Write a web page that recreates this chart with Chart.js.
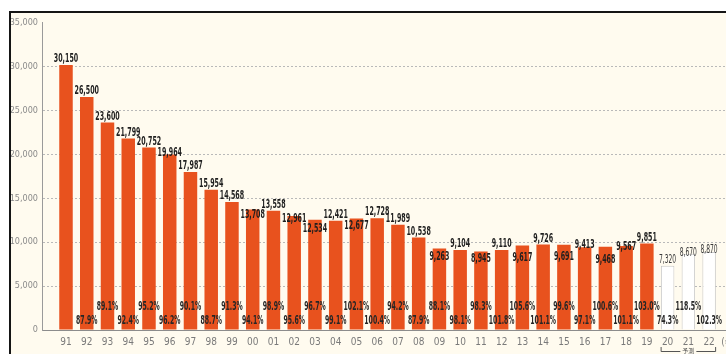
<!DOCTYPE html>
<html>
<head>
<meta charset="utf-8">
<script src="https://cdn.jsdelivr.net/npm/chart.js@4"></script>
<style>
  html, body { margin: 0; padding: 0; background: #fff; overflow: hidden; }
  body { width: 726px; height: 354px; position: relative; }
  #frame { position: absolute; left: 9px; top: 11px; width: 760px; height: 360px;
           border-left: 2px solid #151515; border-top: 2px solid #151515; background: #fffbef; }
  #wrap { position: absolute; left: 0; top: 0; width: 734px; height: 341px; }
</style>
</head>
<body>
<div id="frame"><div id="wrap"><canvas id="chart"></canvas></div></div>
<script>
const years = ['91','92','93','94','95','96','97','98','99','00','01','02','03','04','05','06',
               '07','08','09','10','11','12','13','14','15','16','17','18','19','20','21','22'];
const units = [30150, 26500, 23600, 21799, 20752, 19964, 17987, 15954, 14568, 13708, 13558,
               12961, 12534, 12421, 12677, 12728, 11989, 10538, 9263, 9104, 8945, 9110, 9617,
               9726, 9691, 9413, 9468, 9567, 9851, 7320, 8670, 8870];
const ratios = [null, 87.9, 89.1, 92.4, 95.2, 96.2, 90.1, 88.7, 91.3, 94.1, 98.9, 95.6, 96.7,
                99.1, 102.1, 100.4, 94.2, 87.9, 88.1, 98.1, 98.3, 101.8, 105.6, 101.1, 99.6,
                97.1, 100.6, 101.1, 103.0, 74.3, 118.5, 102.3];
const forecastYears = ['20', '21', '22'];
const yearUnit = '(年)';
const forecastNote = '予測';

const ORANGE = '#e8521e';
const NARROW = '"Liberation Sans Narrow", "DejaVu Sans Condensed", sans-serif';

const isForecast = i => forecastYears.includes(years[i]);

// labels that sit on top of the bar edge instead of above it (px pushed down)
const labelDrop = { '96': 4, '00': 11, '02': 9, '03': 15, '05': 13, '09': 14, '11': 13,
                    '13': 18, '15': 18, '16': 4, '17': 19, '18': 7, '21': 5, '22': 4 };

function squeeze(ctx, text, x, y, font, digitW, color) {
  ctx.save();
  ctx.font = font;
  const sx = Math.min(1, digitW / ctx.measureText('0').width);
  ctx.fillStyle = color;
  ctx.textAlign = 'center';
  ctx.textBaseline = 'middle';
  ctx.translate(x, y);
  ctx.scale(sx, 1);
  ctx.fillText(text, 0, 0);
  ctx.restore();
}

const barLabels = {
  id: 'barLabels',
  afterDatasetsDraw(chart) {
    const ctx = chart.ctx;
    const meta = chart.getDatasetMeta(0);
    const yBase = chart.scales.y.getPixelForValue(0);
    meta.data.forEach((bar, i) => {
      const fc = isForecast(i);
      const drop = labelDrop[years[i]] || 0;
      squeeze(ctx, units[i].toLocaleString('en-US'), bar.x, bar.y - 6 + drop,
              (fc ? '' : 'bold ') + '12px ' + NARROW, fc ? 3.8 : 4.4, fc ? '#3a3a3a' : '#1e1e1e');
      if (ratios[i] != null) {
        const upper = i % 2 === 0;
        squeeze(ctx, ratios[i].toFixed(1) + '%', bar.x, yBase - (upper ? 23 : 9),
                'bold 12px ' + NARROW, 4.3, '#262626');
      }
    });
  },
  afterDraw(chart) {
    // bracket under the forecast years
    const ctx = chart.ctx;
    const x = chart.scales.x;
    const first = years.indexOf(forecastYears[0]);
    const last = years.indexOf(forecastYears[forecastYears.length - 1]);
    const x0 = x.getPixelForValue(first) - 7;
    const x1 = x.getPixelForValue(last) + 7;
    const y = 338;
    const mid = (x0 + x1) / 2;
    ctx.save();
    ctx.strokeStyle = '#555';
    ctx.lineWidth = 1;
    ctx.beginPath();
    ctx.moveTo(x0 + 0.5, y - 4); ctx.lineTo(x0 + 0.5, y + 0.5); ctx.lineTo(mid - 8, y + 0.5);
    ctx.moveTo(mid + 8, y + 0.5); ctx.lineTo(x1 - 0.5, y + 0.5); ctx.lineTo(x1 - 0.5, y - 4);
    ctx.stroke();
    ctx.fillStyle = '#555';
    ctx.font = '6px "Noto Sans CJK JP", sans-serif';
    ctx.textAlign = 'center';
    ctx.textBaseline = 'middle';
    ctx.fillText(forecastNote, mid, y);
    ctx.restore();
  }
};

new Chart(document.getElementById('chart'), {
  type: 'bar',
  data: {
    datasets: [{
      data: units.map((v, i) => ({ x: i, y: v })),
      backgroundColor: units.map((_, i) => isForecast(i) ? '#ffffff' : ORANGE),
      borderColor: units.map((_, i) => isForecast(i) ? '#c9c9c9' : ORANGE),
      borderWidth: units.map((_, i) => isForecast(i) ? 1 : 0),
      categoryPercentage: 0.65,
      barPercentage: 1
    }]
  },
  options: {
    responsive: true,
    maintainAspectRatio: false,
    animation: false,
    layout: { padding: { top: 7, left: 0, right: 0, bottom: 0 } },
    plugins: { legend: { display: false }, tooltip: { enabled: false } },
    scales: {
      x: {
        type: 'linear',
        offset: false,
        min: -1.157,
        max: 32.73,
        afterBuildTicks: s => {
          s.ticks = years.map((_, i) => ({ value: i })).concat([{ value: years.length }]);
        },
        afterFit: s => { s.height = 24; },
        grid: { display: false, drawTicks: false },
        border: { display: true, color: '#8c8c8c', width: 1 },
        ticks: {
          autoSkip: false, maxRotation: 0, padding: 6,
          color: '#7a7a7a',
          font: { family: NARROW, size: 10 },
          callback: (v, idx) => idx < years.length ? years[idx] : yearUnit
        }
      },
      y: {
        min: 0,
        max: 35000,
        afterFit: s => { s.width = 31; },
        grid: {
          drawTicks: false,
          color: c => (c.tick.value === 0 || c.tick.value === 35000) ? 'rgba(0,0,0,0)' : '#b9b9b9'
        },
        border: { display: true, color: '#9a9a9a', width: 1, dash: [2, 2] },
        ticks: {
          stepSize: 5000, padding: 4,
          color: '#8a8a8a',
          font: { family: NARROW, size: 9 },
          callback: v => v.toLocaleString('en-US')
        }
      }
    }
  },
  plugins: [barLabels]
});
</script>
</body>
</html>
